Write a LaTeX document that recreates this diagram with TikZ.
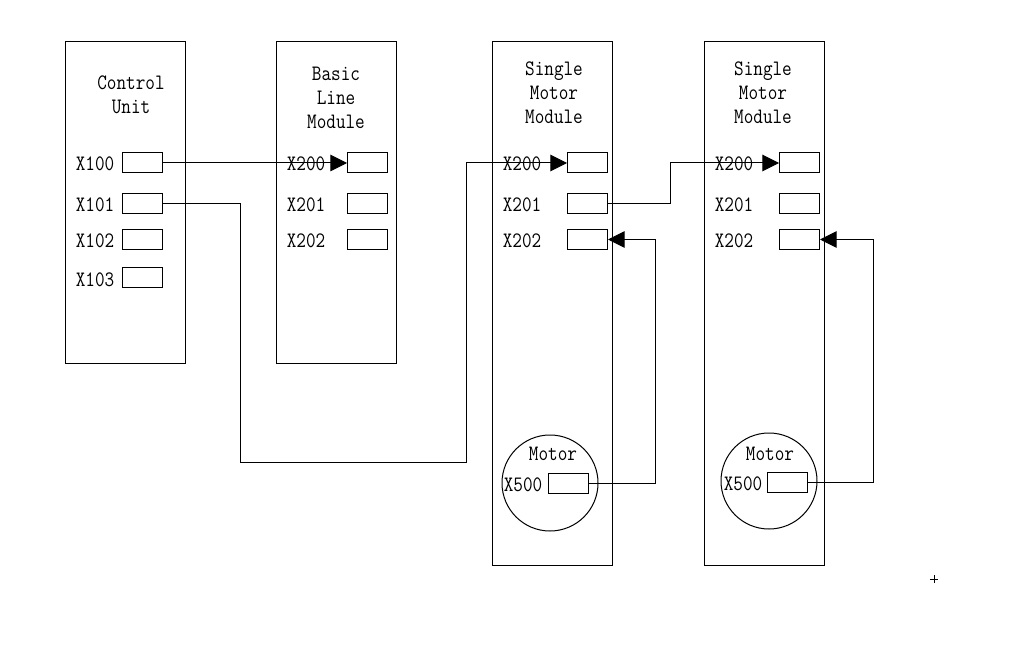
\documentclass[tikz,border=0pt]{standalone}
\usetikzlibrary{arrows.meta}
\newcommand{\tallt}[1]{\scalebox{1}[1.18]{#1}}
\begin{document}
\begin{tikzpicture}[x=0.75pt,y=-0.75pt,
  every node/.style={font=\ttfamily\fontsize{14}{17}\selectfont},
  module/.style={draw,line width=0.75pt,minimum width=90pt,inner sep=0pt},
  port/.style={draw,line width=0.75pt,minimum width=30pt,minimum height=15pt,inner sep=0pt},
  lbl/.style={inner sep=0pt},
  title/.style={inner sep=0pt,font=\ttfamily\fontsize{14}{15.25}\selectfont},
  motor/.style={draw,circle,line width=0.75pt,minimum size=72pt,inner sep=0pt},
  conn/.style={line width=0.75pt,-{Triangle[length=12.5pt,width=12.5pt]}},
  wire/.style={line width=0.75pt}]
\useasboundingbox (0,0) rectangle (1017,652);
% modules
\node[module,minimum height=240.75pt] (cu) at (125,202.5) {};
\node[module,minimum height=240.75pt] (blm) at (336,202.5) {};
\node[module,minimum height=392.25pt] (sma) at (552,303.5) {};
\node[module,minimum height=392.25pt] (smb) at (764,303.5) {};
% titles
\node[title] (tcu) at (131,97) {\tallt{\begin{tabular}{@{}c@{}}Control\\Unit\end{tabular}}};
\node[title] (tblm) at (336,100) {\tallt{\begin{tabular}{@{}c@{}}Basic\\Line\\Module\end{tabular}}};
\node[title] (tsma) at (554,94.5) {\tallt{\begin{tabular}{@{}c@{}}Single\\Motor\\Module\end{tabular}}};
\node[title] (tsmb) at (763,94.5) {\tallt{\begin{tabular}{@{}c@{}}Single\\Motor\\Module\end{tabular}}};
% control unit ports
\node[port] (cu0) at (142,163) {};
\node[port] (cu1) at (142,203.5) {};
\node[port] (cu2) at (142,239.5) {};
\node[port] (cu3) at (142,278) {};
\node[lbl] (lcu0) at (95,164) {\tallt{X100}};
\node[lbl] (lcu1) at (95,205) {\tallt{X101}};
\node[lbl] (lcu2) at (95,241) {\tallt{X102}};
\node[lbl] (lcu3) at (95,280) {\tallt{X103}};
% BLM ports
\node[port] (bl0) at (367.5,163) {};
\node[port] (bl1) at (367.5,203.5) {};
\node[port] (bl2) at (367.5,239.5) {};
\node[lbl] (lbl0) at (306,164) {\tallt{X200}};
\node[lbl] (lbl1) at (306,205) {\tallt{X201}};
\node[lbl] (lbl2) at (306,241) {\tallt{X202}};
% SMM A ports
\node[port] (sa0) at (587.5,163) {};
\node[port] (sa1) at (587.5,203.5) {};
\node[port] (sa2) at (587.5,239.5) {};
\node[lbl] (lsa0) at (522,164) {\tallt{X200}};
\node[lbl] (lsa1) at (522,205) {\tallt{X201}};
\node[lbl] (lsa2) at (522,241) {\tallt{X202}};
% SMM B ports
\node[port] (sb0) at (799.5,163) {};
\node[port] (sb1) at (799.5,203.5) {};
\node[port] (sb2) at (799.5,239.5) {};
\node[lbl] (lsb0) at (734,164) {\tallt{X200}};
\node[lbl] (lsb1) at (734,205) {\tallt{X201}};
\node[lbl] (lsb2) at (734,241) {\tallt{X202}};
% motors
\node[motor] (mota) at (550,483) {};
\node[motor] (motb) at (769,481) {};
\node[lbl] (tma) at (553,454) {\tallt{Motor}};
\node[lbl] (tmb) at (770,454) {\tallt{Motor}};
\node[port] (pa) at (568,483) {};
\node[port] (pb) at (787,482) {};
\node[lbl] (lpa) at (523,485) {\tallt{X500}};
\node[lbl] (lpb) at (743,484) {\tallt{X500}};
% connectors
\draw[conn] (cu0.east) -- (bl0.west);
\draw[conn] (cu1.east) -| (240,462) -| (466,163) -- (sa0.west);
\draw[conn] (sa1.east) -| (670,163) -- (sb0.west);
\draw[conn] (pa.east) -| (655,239.5) -- (sa2.east);
\draw[conn] (pb.east) -| (873,239.5) -- (sb2.east);
% small crosshair mark
\coordinate (mk) at (934,579);
\draw[line width=0.75pt] ([xshift=-3pt]mk) -- ([xshift=3pt]mk) ([yshift=-3pt]mk) -- ([yshift=3pt]mk);
\end{tikzpicture}
\end{document}
